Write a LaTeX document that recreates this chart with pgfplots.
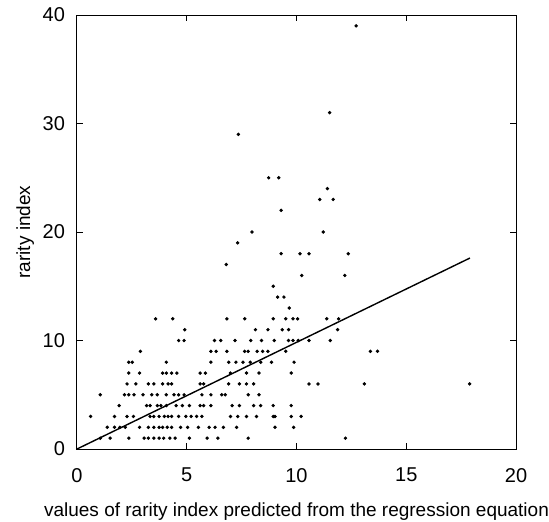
\documentclass[border=0pt]{standalone}
\usepackage{pgfplots}
\pgfplotsset{compat=1.18}
\usepackage{fontspec}
\setmainfont{Liberation Sans}

% observed vs predicted rarity index
\pgfplotstableread{
x y
1.06 1
1.51 1
2.36 1
3.06 1
3.25 1
3.50 1
3.74 1
3.95 1
4.23 1
4.47 1
5.12 1
5.93 1
6.42 1
7.80 1
12.23 1
1.38 2
1.71 2
1.95 2
2.20 2
2.85 2
3.25 2
3.50 2
3.74 2
3.90 2
4.11 2
4.31 2
4.72 2
5.04 2
5.53 2
6.02 2
6.29 2
6.67 2
7.27 2
9.02 2
9.87 2
0.62 3
1.71 3
2.28 3
2.57 3
3.33 3
3.50 3
3.74 3
3.98 3
4.15 3
4.31 3
4.63 3
4.96 3
5.20 3
5.45 3
5.69 3
6.99 3
7.32 3
7.72 3
8.18 3
8.94 3
9.02 3
9.76 3
10.21 3
1.92 4
3.17 4
3.33 4
3.66 4
3.82 4
4.07 4
4.52 4
4.80 4
5.12 4
5.61 4
5.77 4
6.10 4
7.07 4
7.40 4
8.05 4
8.37 4
8.94 4
9.76 4
1.06 5
2.16 5
2.36 5
2.60 5
3.01 5
3.41 5
3.66 5
4.07 5
4.42 5
4.63 5
4.88 5
5.69 5
6.10 5
6.59 5
6.75 5
7.80 5
8.29 5
2.28 6
2.68 6
3.25 6
3.50 6
3.90 6
4.15 6
4.31 6
5.61 6
5.77 6
6.91 6
7.40 6
7.72 6
8.05 6
10.57 6
10.98 6
13.09 6
17.89 6
2.36 7
2.85 7
3.90 7
4.07 7
4.31 7
4.55 7
5.61 7
5.85 7
6.99 7
7.72 7
8.29 7
9.76 7
2.36 8
2.52 8
4.07 8
6.10 8
6.91 8
7.24 8
7.56 8
7.89 8
8.37 8
8.86 8
9.89 8
2.89 9
6.10 9
6.34 9
6.83 9
7.64 9
7.80 9
8.21 9
8.46 9
8.70 9
9.51 9
13.37 9
13.69 9
4.63 10
4.88 10
6.26 10
6.55 10
7.20 10
7.92 10
8.41 10
8.99 10
9.64 10
9.84 10
10.08 10
10.57 10
11.54 10
4.91 11
8.13 11
8.70 11
9.35 11
9.64 11
11.87 11
3.58 12
4.36 12
6.83 12
7.64 12
8.94 12
9.51 12
9.84 12
10.05 12
11.38 12
11.92 12
9.67 13
9.14 14
9.43 14
8.94 15
10.24 16
12.20 16
6.80 17
9.30 18
10.16 18
10.57 18
12.36 18
7.32 19
7.97 20
11.22 20
9.30 22
11.06 23
11.67 23
11.41 24
8.73 25
9.19 25
7.35 29
11.51 31
12.72 39
}\rarity

\begin{document}
\begin{tikzpicture}
\begin{axis}[
    name=ax,
    scale only axis,
    width=219.5pt,
    height=217pt,
    xmin=0, xmax=20,
    ymin=0, ymax=40,
    xtick={0,5,10,15,20},
    ytick={0,10,20,30,40},
    tick align=inside,
    major tick length=3pt,
    axis line style={line width=0.5pt},
    tick style={black, line width=0.5pt},
    /pgf/number format/assume math mode=true,
    ticklabel style={font=\fontsize{10}{11}\selectfont},
    xticklabel style={yshift=-6pt},
    yticklabel style={xshift=-2.5pt},
    xlabel={values of rarity index predicted from the regression equation},
    ylabel={rarity index},
    xlabel style={font=\fontsize{9.5}{11}\selectfont, yshift=-3.5pt},
    ylabel style={font=\fontsize{9.5}{11}\selectfont, yshift=-2.5pt},
]
\addplot[only marks, mark=*, mark size=0.65pt, black] table[x=x, y=y] {\rarity};
\addplot[black, line width=0.7pt] coordinates {(0,0) (17.9,17.6)};
\end{axis}
\pgfresetboundingbox
\path ([shift={(-38.5pt,-36pt)}]ax.south west) rectangle ([shift={(16.5pt,7.5pt)}]ax.north east);
\end{tikzpicture}
\end{document}
